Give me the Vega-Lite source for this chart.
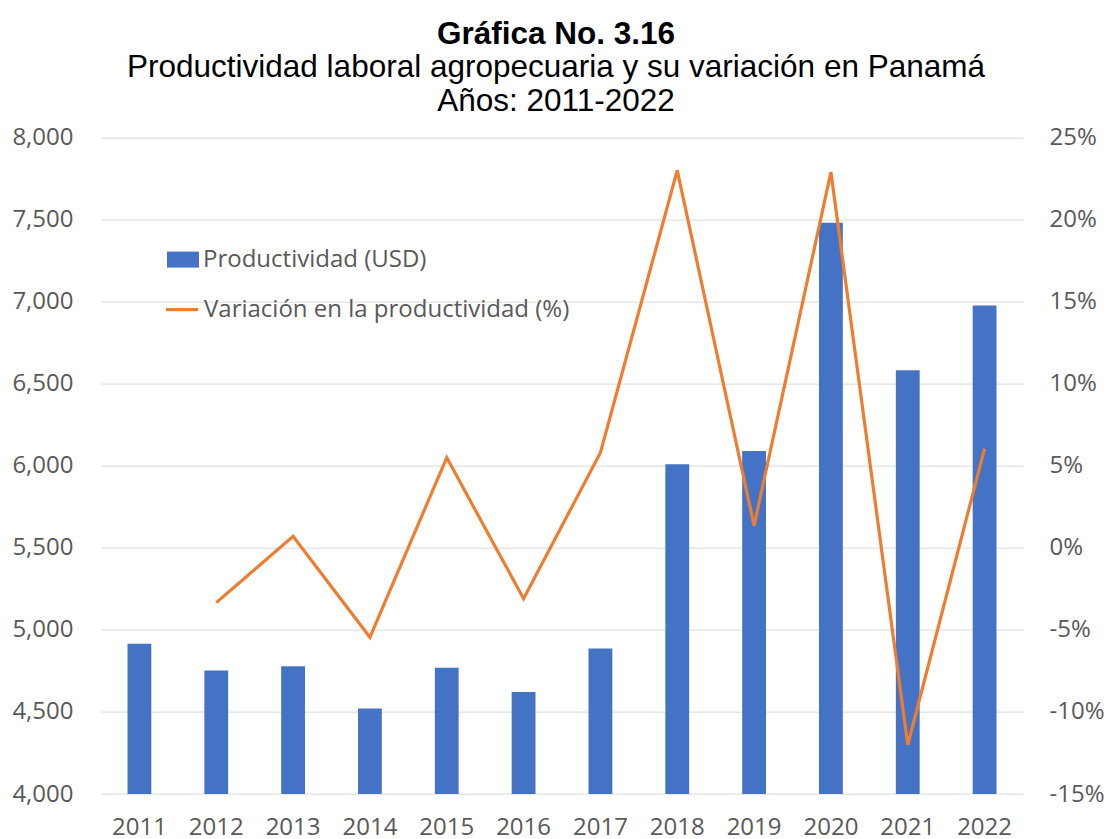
{
  "$schema": "https://vega.github.io/schema/vega-lite/v6.json",
  "autosize": {"type": "none"},
  "width": 922,
  "height": 656.4,
  "padding": {"left": 101, "top": 137.6, "right": 84, "bottom": 45},
  "background": "white",
  "title": {
    "text": "Gráfica No. 3.16",
    "subtitle": ["Productividad laboral agropecuaria y su variación en Panamá", "Años: 2011-2022"],
    "font": "Liberation Sans",
    "fontSize": 31.5,
    "fontWeight": "bold",
    "color": "#000000",
    "subtitleFont": "Liberation Sans",
    "subtitleFontSize": 31.5,
    "subtitleFontWeight": "normal",
    "subtitleColor": "#000000",
    "subtitleLineHeight": 34.5,
    "subtitlePadding": 1,
    "anchor": "middle",
    "frame": "group",
    "dx": -6,
    "offset": 8
  },
  "config": {
    "view": {"stroke": null},
    "axis": {
      "labelFont": "Open Sans",
      "labelFontSize": 24,
      "labelColor": "#595959",
      "domain": false,
      "ticks": false,
      "tickSize": 0,
      "title": null
    },
    "legend": {
      "labelFont": "Open Sans",
      "labelFontSize": 24,
      "labelColor": "#595959",
      "labelLimit": 0,
      "title": null,
      "orient": "none",
      "labelOffset": 4,
      "padding": 0
    }
  },
  "data": {
    "values": [
      {"year": "2011", "prod": 4916, "var": null},
      {"year": "2012", "prod": 4752, "var": -3.34},
      {"year": "2013", "prod": 4779, "var": 0.7},
      {"year": "2014", "prod": 4521, "var": -5.45},
      {"year": "2015", "prod": 4770, "var": 5.5},
      {"year": "2016", "prod": 4622, "var": -3.1},
      {"year": "2017", "prod": 4887, "var": 5.8},
      {"year": "2018", "prod": 6010, "var": 23.0},
      {"year": "2019", "prod": 6090, "var": 1.35},
      {"year": "2020", "prod": 7481, "var": 22.9},
      {"year": "2021", "prod": 6582, "var": -12.0},
      {"year": "2022", "prod": 6977, "var": 6.05}
    ]
  },
  "encoding": {
    "x": {
      "field": "year",
      "type": "ordinal",
      "scale": {"paddingInner": 0.69, "paddingOuter": 0.345},
      "axis": {"labelAngle": 0, "labelPadding": 21, "grid": false}
    }
  },
  "layer": [
    {
      "mark": {"type": "bar", "clip": true},
      "encoding": {
        "y": {
          "field": "prod",
          "type": "quantitative",
          "scale": {"domain": [4000, 8000], "zero": false, "nice": false},
          "axis": {
            "values": [4000, 4500, 5000, 5500, 6000, 6500, 7000, 7500, 8000],
            "format": ",d",
            "grid": true,
            "gridColor": "#D9D9D9",
            "gridWidth": 1,
            "labelPadding": 28,
            "orient": "left"
          }
        },
        "fill": {
          "datum": "Productividad (USD)",
          "scale": {"range": ["#4472C4"]},
          "legend": {
            "symbolType": "M-1,-0.5H1V0.5H-1Z",
            "symbolSize": 1024,
            "symbolStrokeWidth": 0,
            "legendX": 66,
            "legendY": 106
          }
        }
      }
    },
    {
      "mark": {"type": "line", "strokeWidth": 3.2},
      "encoding": {
        "y": {
          "field": "var",
          "type": "quantitative",
          "scale": {"domain": [-15, 25], "nice": false, "zero": false},
          "axis": {
            "orient": "right",
            "values": [-15, -10, -5, 0, 5, 10, 15, 20, 25],
            "labelExpr": "datum.value + '%'",
            "grid": false,
            "labelPadding": 26
          }
        },
        "stroke": {
          "datum": "Variación en la productividad (%)",
          "scale": {"range": ["#ED7D31"]},
          "legend": {
            "symbolType": "stroke",
            "symbolSize": 1024,
            "symbolStrokeWidth": 3.2,
            "legendX": 63,
            "legendY": 154
          }
        }
      }
    }
  ],
  "resolve": {"scale": {"y": "independent"}}
}
